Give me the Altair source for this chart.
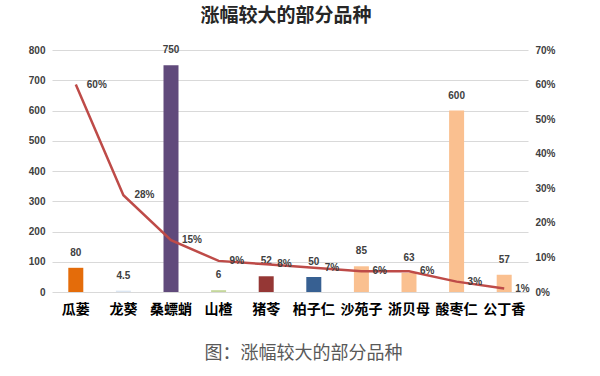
import altair as alt
import pandas as pd

categories = ["瓜蒌", "龙葵", "桑螵蛸", "山楂", "猪苓", "柏子仁", "沙苑子", "浙贝母", "酸枣仁", "公丁香"]
prices = [80, 4.5, 750, 6, 52, 50, 85, 63, 600, 57]
price_labels = ["80", "4.5", "750", "6", "52", "50", "85", "63", "600", "57"]
growth = [0.60, 0.28, 0.15, 0.09, 0.08, 0.07, 0.06, 0.06, 0.03, 0.01]
growth_labels = ["60%", "28%", "15%", "9%", "8%", "7%", "6%", "6%", "3%", "1%"]
bar_colors = ["#E46C0A", "#DCE6F2", "#604A7B", "#C4D79B", "#953735", "#376092",
              "#FAC090", "#FAC090", "#FAC090", "#FAC090"]

df = pd.DataFrame({
    "cat": categories,
    "price": prices,
    "plabel": price_labels,
    "growth": growth,
    "glabel": growth_labels,
    "color": bar_colors,
})

FONT = "Noto Sans CJK SC"

x = alt.X("cat:N", sort=None, scale=alt.Scale(paddingInner=0.68, paddingOuter=0.34),
          axis=alt.Axis(title="图：涨幅较大的部分品种", labelAngle=0, labelFontSize=14,
                        labelFontWeight="bold", labelColor="#000000", labelFont=FONT,
                        labelPadding=10, ticks=False, domain=False,
                        titleFont=FONT, titleFontSize=18, titleFontWeight="normal",
                        titleColor="#595959", titleX=251, titleY=61,
                        titleAlign="center", titleBaseline="middle"))

yl = alt.Y("price:Q", scale=alt.Scale(domain=[0, 800]),
           axis=alt.Axis(title=None, values=list(range(0, 801, 100)), grid=True,
                         gridColor="#D9D9D9", domain=False, ticks=False,
                         labelFontSize=10, labelFontWeight="bold", labelColor="#404040",
                         labelPadding=7))

bars = alt.Chart(df).mark_bar(size=15).encode(
    x=x, y=yl, color=alt.Color("color:N", scale=None)
)
bar_text = alt.Chart(df).mark_text(dy=-15, fontSize=10, color="#404040",
                                   fontWeight="bold", baseline="middle").encode(
    x=x, y=yl, text="plabel:N"
)

yr = alt.Y("growth:Q", scale=alt.Scale(domain=[0, 0.7]),
           axis=alt.Axis(title=None, orient="right", format=".0%", grid=False,
                         values=[0, 0.1, 0.2, 0.3, 0.4, 0.5, 0.6, 0.7],
                         domain=False, ticks=False, labelFontSize=10,
                         labelFontWeight="bold", labelColor="#404040", labelPadding=7))

line = alt.Chart(df).mark_line(color="#BE4B48", strokeWidth=2.5).encode(x=x, y=yr)
line_text = alt.Chart(df).mark_text(dx=11, align="left", baseline="middle", fontSize=10,
                                    fontWeight="bold", color="#404040").encode(
    x=x, y=yr, text="glabel:N"
)

left = alt.layer(bars, bar_text)
right = alt.layer(line, line_text)

chart = alt.layer(left, right).resolve_scale(y="independent").properties(
    width=476, height=242,
    autosize=alt.AutoSizeParams(type="none"),
    padding={"left": 52, "top": 50, "right": 72, "bottom": 84},
    title=alt.TitleParams("涨幅较大的部分品种", font=FONT, fontSize=19, fontWeight="bold",
                          color="#262626", anchor="middle", dx=-4, offset=19),
).configure_view(stroke=None)

chart.save("out.html", embed_options={"renderer": "svg", "actions": False})
